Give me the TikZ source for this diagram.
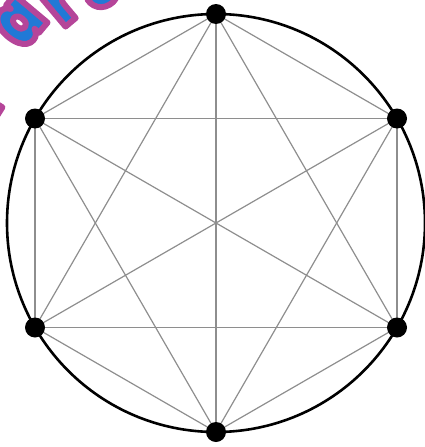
\documentclass[tikz,border=0pt]{standalone}
\usepackage{fontspec}
\setmainfont{DejaVu Sans}
\IfFontExistsTF{Poppins Black}{\newfontfamily\wmfont{Poppins Black}}{%
  \IfFontExistsTF{Lato Black}{\newfontfamily\wmfont{Lato Black}}{\newfontfamily\wmfont{DejaVu Sans Bold}}}
\definecolor{wmblue}{HTML}{2179D6}
\definecolor{wmpink}{HTML}{B5449A}
\definecolor{edgegray}{HTML}{8E8E8E}
\newcommand{\outl}[1]{\special{pdf:literal direct 2 Tr 6 w 0.71 0.27 0.60 RG 1 j}#1\special{pdf:literal direct 0 Tr}}
\begin{document}
\begin{tikzpicture}[x=1pt,y=-1pt,
  edge/.style={draw=edgegray,line width=1.2pt},
  vdot/.style={circle,fill=black,inner sep=0pt,minimum size=20pt},
  rim/.style={draw=black,line width=2.6pt},
  wm/.style={text=wmblue,inner sep=0pt,font=\wmfont\fontsize{76}{76}\selectfont\addfontfeature{FakeStretch=0.78}}]
\useasboundingbox (0,0) rectangle (425,447);
\begin{scope}
\clip (0,0) rectangle (425,447);
\node[wm,rotate=58] (wl) at (-25,98) {\outl{l}};
\node[wm,rotate=50] (wa) at (20,22) {\outl{a}};
\node[wm,rotate=40] (wr) at (60,3) {\outl{r}};
\node[wm,rotate=30] (ws) at (98,-14) {\outl{s}};
\end{scope}
\coordinate (c) at (216,223);
\draw[rim] (c) circle[radius=209pt];
\coordinate (v1) at (216,14);
\coordinate (v2) at (397,118.5);
\coordinate (v3) at (397,327.5);
\coordinate (v4) at (216,432);
\coordinate (v5) at (35,327.5);
\coordinate (v6) at (35,118.5);
\foreach \i in {1,...,6}{
  \foreach \j in {1,...,6}{
    \ifnum\i<\j \draw[edge] (v\i) -- (v\j); \fi
  }
}
\foreach \i in {1,...,6}{
  \node[vdot] (d\i) at (v\i) {};
}
\end{tikzpicture}
\end{document}
